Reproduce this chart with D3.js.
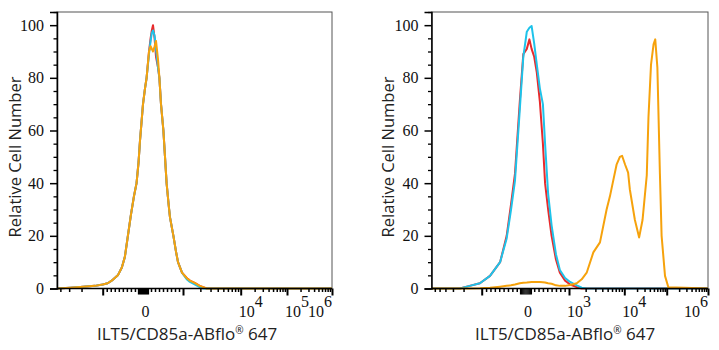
<!DOCTYPE html>
<html><head><meta charset="utf-8">
<script src="https://cdn.jsdelivr.net/npm/d3@7"></script>
<style>body{margin:0;background:#fff}svg{display:block}</style></head>
<body>
<script>
// ---------- DATA ----------
// x positions are in display "decade" units: 0 = 0, ±1 = ±10^3, 2 = 10^4, 3 = 10^5, 4 = 10^6
const leftX = [-1.65,-1.46,-1.32,-1.11,-1.0,-0.875,-0.75,-0.625,-0.525,-0.45,-0.375,-0.3,-0.225,-0.16,-0.11,-0.075,0,0.05,0.09,0.15,0.19,0.22,0.25,0.29,0.325,0.375,0.41,0.45,0.51,0.55,0.59,0.64,0.675,0.76,0.825,0.875,0.975,1.064,1.12,1.21,1.29,1.35,1.41,4.0];
const leftRed    = [0,0.3,0.6,1,1.5,2,3.3,5,8,12,20,28,35,40,48,56,70,76,80,90,95,98,100,95,88,84,80,70,60,50,40,32,27,20,14,10,6,4,3,2,1,0.5,0,0];
const leftCyan   = [0,0.3,0.6,1,1.5,2,3.3,5,8,12,20,28,35,40,48,56,70,76,80,89,94,97,98,96,91,84,80,70,60,50,40,32,27,20,14,10,6,3.5,2.5,1.5,0.5,0,0,0];
const leftOrange = [0,0.3,0.6,1,1.5,2,3.3,5,8,12,20,28,35,40,48,56,70,76,80,90,92,91,90,92,94,87,80,70,60,50,40,32,27,20,14,10,6,4,3,2,1,0.5,0,0];

const rightX = [-1.83,-1.36,-1.2,-1.03,-0.81,-0.58,-0.43,-0.33,-0.24,-0.13,-0.05,0.03,0.09,0.14,0.2,0.26,0.33,0.4,0.45,0.52,0.6,0.7,0.79,0.91,1.02,1.14,1.23,1.32,1.44,1.56,1.68,1.74,1.79,1.86,1.92,1.96,2.02,2.09,2.13,2.25,2.35,2.43,2.53,2.57,2.63,2.69,2.73,2.78,2.84,2.88,2.96,3.04,4.0];
const rightRed    = [0,0,1,2,4.8,10,20,32,43.6,71,89,91,94.6,91,88,82,71,55,40,30,20,11,6,3,1.5,0.5,0,0,0,0,0,0,0,0,0,0,0,0,0,0,0,0,0,0,0,0,0,0,0,0,0,0,0];
const rightCyan   = [0,0,1,2,4.8,10,19,30,41,68,88,97.5,99,99.7,93,85,76,70,55,36,24,13,7,4,2.5,1.2,0.3,0,0,0,0,0,0,0,0,0,0,0,0,0,0,0,0,0,0,0,0,0,0,0,0,0,0];
const rightOrange = [0,0,0,0.1,0.3,0.7,1,1.2,1.5,2,2.2,2.3,2.4,2.5,2.5,2.5,2.5,2.4,2.3,2,1.8,1.2,1,1,1.3,2,3.5,6,13.7,17.5,30,35,40,47,50,50.4,47,44,37.7,26,19.4,26,43,65,85,92.7,94.6,84,43.5,20,4.8,0.5,0];

const yMajorTicks = [0,20,40,60,80,100];
const yMinorTicks = [5,10,15,25,30,35,45,50,55,65,70,75,85,90,95,105];
const xMajorTickValues = [-1000,1000,1e4,1e5,1e6];
const xMinorTickValues = [-9000,-8000,-7000,-6000,-5000,-4000,-3000,-2000,-900,-800,-700,-600,-500,-400,-300,-200,
  200,300,400,500,600,700,800,900,2000,3000,4000,5000,6000,7000,8000,9000,
  2e4,3e4,4e4,5e4,6e4,7e4,8e4,9e4,2e5,3e5,4e5,5e5,6e5,7e5,8e5,9e5];
const xZeroTickValues = [-125,-100,-75,-50,-25,0,25,50,75,100,125];
const leftTickLabels  = [0, 1e4, 1e5, 1e6];
const rightTickLabels = [0, 1e3, 1e4, 1e6];
const seriesNames = ["Red","Cyan","Orange"];
const xTitle = "ILT5/CD85a-ABflo";
const xTitleTail = " 647";
const yTitle = "Relative Cell Number";

// ---------- RENDER ----------
const W = 719, H = 350;
const colors = {Red:"#e82a2c", Cyan:"#1ec3ea", Orange:"#f6a20c"};
const svg = d3.select("body").append("svg").attr("width",W).attr("height",H);

function toU(v){ const a=Math.abs(v); return a<=1000 ? v/1000 : Math.sign(v)*(1+Math.log10(a/1000)); }

const panels = [
  {xs:leftX, ys:{Red:leftRed,Cyan:leftCyan,Orange:leftOrange}, labels:leftTickLabels,
   dom:[-1.65,-1,0,1,2,3,4], rng:[57,102.7,143,183,240.7,287,332], yTitleX:21, titleX:187},
  {xs:rightX, ys:{Red:rightRed,Cyan:rightCyan,Orange:rightOrange}, labels:rightTickLabels,
   dom:[-1.833,-1,0,1,2,3,4], rng:[431.5,481.7,525.5,569,624.3,666.7,708], yTitleX:394, titleX:565}
];
const plotTop = 12, plotBottom = 288.5;
const y = d3.scaleLinear().domain([0,105]).range([plotBottom, plotTop]);
const serif = "'Liberation Serif','Times New Roman',serif";
const sans = "'Open Sans','Noto Sans',sans-serif";

panels.forEach(p => {
  const x = d3.scaleLinear().domain(p.dom).range(p.rng);
  const x0 = p.rng[0], x1 = p.rng[p.rng.length-1];
  const g = svg.append("g");

  // frame
  g.append("rect").attr("x",x0).attr("y",plotTop).attr("width",x1-x0).attr("height",plotBottom-plotTop)
    .attr("fill","none").attr("stroke","#555").attr("stroke-width",1);

  // curves
  const line = d3.line().x(d=>x(d[0])).y(d=>y(d[1]));
  seriesNames.forEach(n => {
    const pts = p.xs.map((u,i)=>[u,p.ys[n][i]]);
    g.append("path").attr("d",line(pts)).attr("fill","none")
      .attr("stroke",colors[n]).attr("stroke-width",2).attr("stroke-linejoin","round");
  });

  // y axis
  const yMaj = d3.axisLeft(y).tickValues(yMajorTicks).tickSize(7).tickPadding(6).tickFormat(d3.format("d"));
  const gy = g.append("g").attr("transform",`translate(${x0},0)`).call(yMaj);
  gy.select(".domain").attr("stroke","#000").attr("stroke-width",1.5);
  gy.selectAll(".tick line").attr("stroke-width",1.5);
  gy.selectAll("text").attr("font-family",serif).attr("font-size",16).attr("fill","#111");
  const yMin = d3.axisLeft(y).tickValues(yMinorTicks.filter(v=>y(v)>=plotTop)).tickSize(3.5).tickFormat("");
  const gy2 = g.append("g").attr("transform",`translate(${x0},0)`).call(yMin);
  gy2.select(".domain").remove();
  gy2.selectAll(".tick line").attr("stroke-width",1.3);

  // x axis
  const inRange = v => { const u = toU(v); return u >= p.dom[0] && u <= p.dom[p.dom.length-1]; };
  const xMaj = d3.axisBottom(x).tickValues(xMajorTickValues.filter(inRange).map(toU)).tickSize(7).tickFormat("");
  const gx = g.append("g").attr("transform",`translate(0,${plotBottom})`).call(xMaj);
  gx.select(".domain").attr("stroke","#000").attr("stroke-width",1.5).attr("d",`M${x0},0H${x1}`);
  gx.selectAll(".tick line").attr("stroke-width",2);
  const xMin = d3.axisBottom(x).tickValues(xMinorTickValues.filter(inRange).map(toU)).tickSize(3.5).tickFormat("");
  const gx2 = g.append("g").attr("transform",`translate(0,${plotBottom})`).call(xMin);
  gx2.select(".domain").remove();
  gx2.selectAll(".tick line").attr("stroke-width",1.5);
  const xZ = d3.axisBottom(x).tickValues(xZeroTickValues.map(toU)).tickSize(6).tickFormat("");
  const gx3 = g.append("g").attr("transform",`translate(0,${plotBottom})`).call(xZ);
  gx3.select(".domain").remove();
  gx3.selectAll(".tick line").attr("stroke-width",1.2);

  // x tick labels
  p.labels.forEach((v,i) => {
    const last = i === p.labels.length-1;
    const t = g.append("text").attr("y",317).attr("font-family",serif).attr("font-size",16).attr("fill","#111");
    if (v === 0) {
      t.attr("x", x(toU(v)) - 1.5).text("0");
    } else {
      const e = Math.round(Math.log10(v));
      if (last) t.attr("x", x1).attr("text-anchor","end"); else t.attr("x", x(toU(v)) - 2);
      t.append("tspan").text("10");
      t.append("tspan").attr("dy",-10).text(e);
    }
  });

  // titles
  const xt = g.append("text").attr("x",p.titleX).attr("y",340).attr("text-anchor","middle")
    .attr("font-family",sans).attr("font-size",17).attr("fill","#222");
  xt.append("tspan").text(xTitle);
  xt.append("tspan").attr("font-size",10).attr("dy",-6).text("®");
  xt.append("tspan").attr("dy",6).text(xTitleTail);

  g.append("text").attr("transform",`translate(${p.yTitleX},157) rotate(-90)`).attr("text-anchor","middle")
    .attr("font-family",sans).attr("font-size",16.5).attr("fill","#222").text(yTitle);
});
</script>
</body></html>
